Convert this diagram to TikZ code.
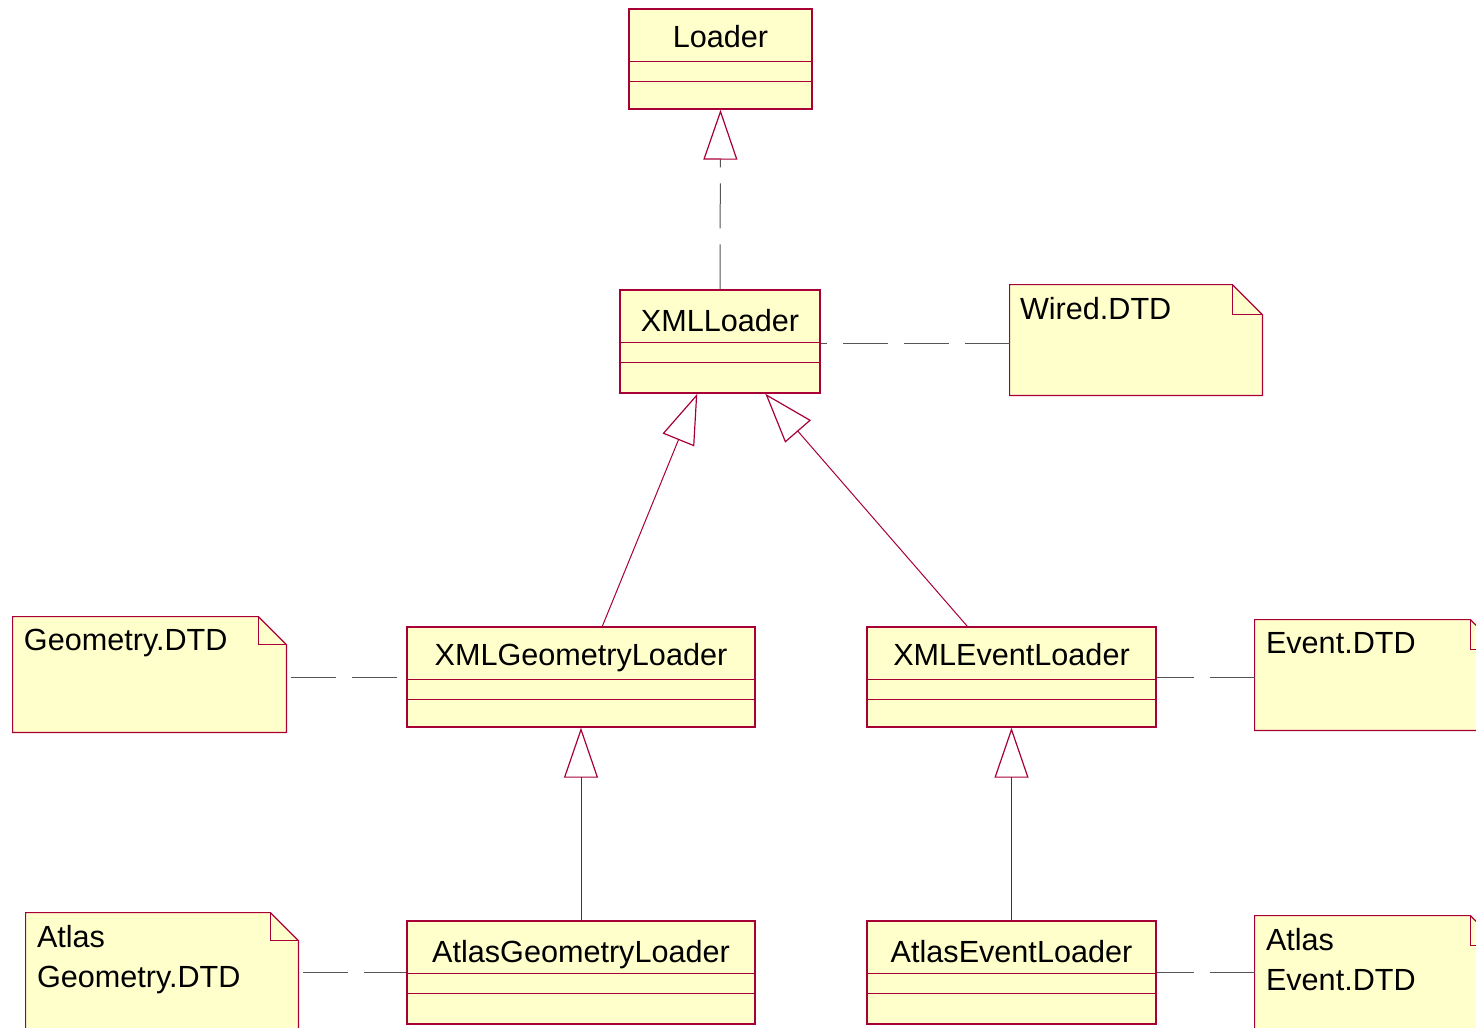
\documentclass[tikz,border=0pt]{standalone}
\usepackage{fontspec}
\setmainfont{Liberation Sans}
\usetikzlibrary{arrows.meta,calc,fit}
\definecolor{umlred}{RGB}{168,0,54}
\definecolor{umlfill}{RGB}{255,255,204}
\definecolor{umlgray}{RGB}{85,85,85}
\newcommand\umlclassbox[7]{%
  \node[classbox, fit={(#2,#3) (#4,#5)}] (#1) {};
  \draw[compline] ($(#1.north west)+(0,53)$) -- ($(#1.north east)+(0,53)$);
  \draw[compline] ($(#1.north west)+(0,73)$) -- ($(#1.north east)+(0,73)$);
  \node[labeltext, anchor=base] (#1-t) at ($(#1.north)+(0,#7)$) {#6};
}
\newcommand\umlnote[6]{%
  \node[notebox, fit={(#2,#3) (#4,#5)}] (#1) {};
  \draw[noteline, fill=umlfill] (#1.north west) -- ($(#1.north east)+(-#6,0)$) -- ($(#1.north east)+(0,#6)$) -- (#1.south east) -- (#1.south west) -- cycle;
  \draw[noteline] ($(#1.north east)+(-#6,0)$) -- ($(#1.north east)+(-#6,#6)$) -- ($(#1.north east)+(0,#6)$);
}
\begin{document}
\begin{tikzpicture}[x=0.5pt,y=-0.5pt,
  classbox/.style={draw=umlred, fill=umlfill, line width=0.7pt, inner sep=0pt},
  compline/.style={draw=umlred, line width=0.5pt},
  notebox/.style={inner sep=0pt, draw=none},
  noteline/.style={draw=umlred, line width=0.6pt, line join=miter},
  labeltext/.style={font=\fontsize{15.3pt}{20pt}\selectfont, inner sep=0pt, text=black},
  gen/.style={draw=umlred, line width=0.5pt, -{Triangle[open, length=25pt, width=17pt, line width=0.6pt]}},
  realize/.style={draw=umlgray, line width=0.5pt, dash pattern=on 22.5pt off 8pt, -{Triangle[open, length=25pt, width=17pt, color=umlred, line width=0.6pt]}},
  dep/.style={draw=umlgray, line width=0.5pt, dash pattern=on 22.5pt off 8pt}]
\fill[white] (0,0) rectangle (1476,1027);
\useasboundingbox (0,0) rectangle (1476,1027);
\clip (0,0) rectangle (1476,1027);

% classes
\umlclassbox{lo}{629}{9}{812}{109}{Loader}{39}
\umlclassbox{xl}{620}{290}{820}{393}{XMLLoader}{42}
\umlclassbox{xg}{407}{627}{755}{727}{XMLGeometryLoader}{39}
\umlclassbox{xe}{867}{627}{1156}{727}{XMLEventLoader}{39}
\umlclassbox{ag}{407}{921}{755}{1024}{AtlasGeometryLoader}{42}
\umlclassbox{ae}{867}{921}{1156}{1024}{AtlasEventLoader}{42}

% notes
\umlnote{wi}{1010}{285}{1262}{395}{30}
\node[labeltext, anchor=base west] (wi-t) at ($(wi.north west)+(10,35)$) {Wired.DTD};
\umlnote{gd}{13}{617}{286}{732}{28}
\node[labeltext, anchor=base west] (gd-t) at ($(gd.north west)+(11,34)$) {Geometry.DTD};
\umlnote{ed}{1255}{620}{1500}{730}{30}
\node[labeltext, anchor=base west] (ed-t) at ($(ed.north west)+(11,34)$) {Event.DTD};
\umlnote{agd}{26}{913}{298}{1080}{28}
\node[labeltext, anchor=base west] (agd-t1) at ($(agd.north west)+(11,35)$) {Atlas};
\node[labeltext, anchor=base west] (agd-t2) at ($(agd.north west)+(11,75)$) {Geometry.DTD};
\umlnote{aed}{1255}{916}{1500}{1080}{30}
\node[labeltext, anchor=base west] (aed-t1) at ($(aed.north west)+(11,35)$) {Atlas};
\node[labeltext, anchor=base west] (aed-t2) at ($(aed.north west)+(11,75)$) {Event.DTD};

% realization XMLLoader -> Loader
\draw[realize] (xl.north) -- (lo.south);
% generalizations
\draw[gen] ($(xg.north west)+(196,0)$) -- ($(xl.south west)+(78,0)$);
\draw[gen] ($(xe.north west)+(101,0)$) -- ($(xl.south west)+(146,0)$);
\draw[gen] (ag.north) -- (xg.south);
\draw[gen] (ae.north) -- (xe.south);

% note attachments
\draw[dep] (wi.west |- 0,343) -- (xl.east |- 0,343);
\draw[dep] ($(xg.west -| gd.east)+(5,0)$) -- ($(xg.west)+(-9,0)$);
\draw[dep] (ed.west |- xe.east) -- (xe.east);
\draw[dep] ($(ag.west -| agd.east)+(5,0)$) -- (ag.west);
\draw[dep] (aed.west |- ae.east) -- (ae.east);
\end{tikzpicture}
\end{document}
